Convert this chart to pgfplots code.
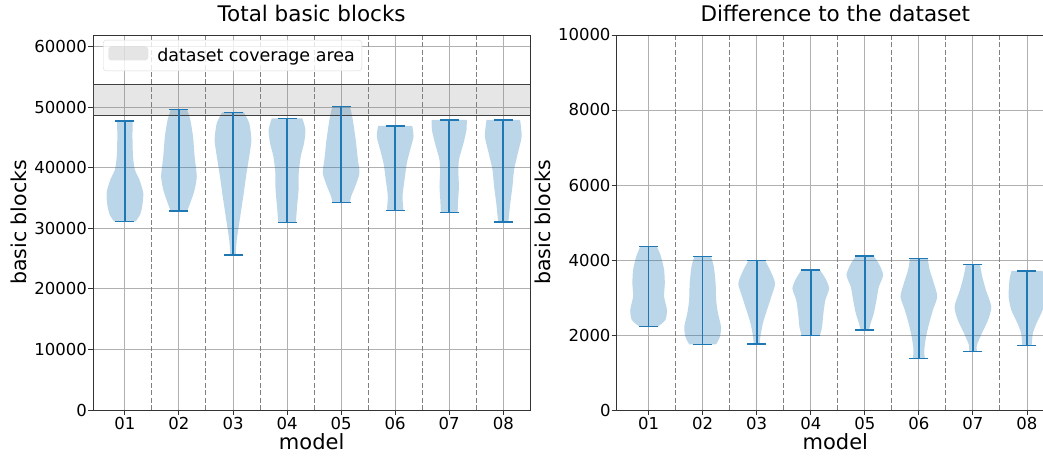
\documentclass[border=0pt]{standalone}
\usepackage{fontspec}
\setmainfont{DejaVu Sans}
\usepackage{pgfplots}
\usepackage{pgfplotstable}
\pgfplotsset{compat=1.18}
\usepgfplotslibrary{fillbetween}
\definecolor{cz}{HTML}{1F77B4}

% left chart violins: y, half width (axis units)
\pgfplotstableread{
y w
31120 0.20
32230 0.28
33600 0.32
35800 0.34
38000 0.27
39650 0.185
41850 0.15
45150 0.14
47740 0.145
}\La
\pgfplotstableread{
y w
32890 0.155
34700 0.23
36350 0.29
38550 0.33
41850 0.29
45150 0.26
47900 0.21
49600 0.15
}\Lb
\pgfplotstableread{
y w
25630 0.05
28100 0.07
31400 0.125
35250 0.19
39100 0.25
41850 0.30
44600 0.34
47360 0.30
49110 0.20
}\Lc
\pgfplotstableread{
y w
30960 0.164
33600 0.185
36350 0.213
39100 0.216
41850 0.253
44060 0.315
46250 0.34
48120 0.284
}\Ld
\pgfplotstableread{
y w
34260 0.164
35250 0.185
36900 0.26
39100 0.34
41300 0.31
44600 0.27
47900 0.216
50100 0.164
}\Le
\pgfplotstableread{
y w
32940 0.154
35250 0.136
38000 0.173
40760 0.216
42950 0.278
45150 0.34
46910 0.315
}\Lf
\pgfplotstableread{
y w
32610 0.155
34700 0.165
36900 0.18
39100 0.17
41300 0.18
44060 0.265
46250 0.32
47900 0.324
}\Lg
\pgfplotstableread{
y w
31020 0.093
31950 0.105
34150 0.13
36900 0.17
39650 0.2
42410 0.27
45150 0.34
47900 0.31
}\Lh

% right chart violins
\pgfplotstableread{
y w
2222 0.17
2400 0.31
2667 0.34
3022 0.287
3378 0.30
3733 0.287
4089 0.23
4356 0.155
}\Ra
\pgfplotstableread{
y w
1751 0.25
1956 0.32
2222 0.34
2578 0.284
2933 0.25
3378 0.24
3822 0.207
4089 0.155
}\Rb
\pgfplotstableread{
y w
1760 0.055
1956 0.068
2311 0.114
2667 0.19
3022 0.27
3378 0.34
3733 0.247
3982 0.155
}\Rc
\pgfplotstableread{
y w
1991 0.17
2222 0.21
2578 0.234
2933 0.27
3244 0.34
3511 0.27
3733 0.17
}\Rd
\pgfplotstableread{
y w
2133 0.077
2311 0.108
2578 0.167
2933 0.216
3289 0.26
3600 0.34
3911 0.256
4107 0.16
}\Re
\pgfplotstableread{
y w
1378 0.11
1600 0.1
1956 0.133
2311 0.19
2667 0.26
3022 0.34
3378 0.278
3733 0.2
4044 0.164
}\Rf
\pgfplotstableread{
y w
1556 0.074
1733 0.074
2044 0.164
2400 0.28
2756 0.34
3200 0.24
3556 0.173
3884 0.13
}\Rg
\pgfplotstableread{
y w
1716 0.086
2044 0.108
2311 0.176
2667 0.29
3022 0.34
3467 0.324
3707 0.287
}\Rh

% #1 position, #2 table, #3 min, #4 max, #5 unique id
\newcommand{\violin}[5]{%
 \addplot[name path=vr#5, draw=none, smooth, tension=0.4, forget plot] table[x expr=#1+\thisrow{w}, y=y] {#2};
 \addplot[name path=vl#5, draw=none, smooth, tension=0.4, forget plot] table[x expr=#1-\thisrow{w}, y=y] {#2};
 \addplot[fill=cz, fill opacity=0.3, draw=none, forget plot] fill between[of=vr#5 and vl#5, reverse=true];
 \addplot[cz, line width=1.6pt, mark=-, mark size=9.5pt, mark options={solid, line width=1.6pt}, forget plot] coordinates {(#1,#3) (#1,#4)};
}

\pgfplotsset{
 violinaxis/.style={
  scale only axis, width=437.3pt, height=375pt,
  xmin=0.41, xmax=8.5,
  xtick={1,2,3,4,5,6,7,8},
  xticklabels={01,02,03,04,05,06,07,08},
  xtick pos=bottom, ytick pos=left,
  tick align=outside, major tick length=5pt,
  tick style={black!80, line width=0.9pt},
  axis line style={black!80, line width=0.9pt},
  grid=major,
  major grid style={black!31, line width=0.9pt},
  extra x ticks={1.5,2.5,3.5,4.5,5.5,6.5,7.5},
  extra x tick labels={},
  extra x tick style={grid=major, major tick length=0pt,
     major grid style={black!50, line width=1pt, dash pattern=on 5pt off 2.4pt}},
  ticklabel style={font=\fontsize{16.5}{19}\selectfont, inner sep=1pt},
  xticklabel style={yshift=-1pt},
  /pgf/number format/assume math mode=true,
  /pgf/number format/set thousands separator={},
  scaled y ticks=false,
  title style={at={(axis description cs:0.5,1.019)}, anchor=base, font=\fontsize{21.5}{25}\selectfont},
  xlabel={model},
  xlabel style={at={(axis description cs:0.5,-0.106)}, anchor=base, inner sep=1pt, font=\fontsize{21}{25}\selectfont},
  ylabel={basic blocks},
  ylabel style={at={(axis description cs:-0.151,0.5)}, anchor=base, inner sep=1pt, font=\fontsize{20.5}{24}\selectfont},
 }
}

\begin{document}
\begin{tikzpicture}
\begin{axis}[violinaxis, at={(93pt,47pt)}, anchor=south west,
  ymin=0, ymax=61900,
  ytick={0,10000,20000,30000,40000,50000,60000},
  title={Total basic blocks},
  legend style={at={(axis description cs:0.023,0.987)}, anchor=north west,
    draw=black!15, rounded corners=3pt, fill=white, fill opacity=0.8, text opacity=1,
    font=\fontsize{17.5}{20}\selectfont, inner xsep=5pt, inner ysep=6pt},
  legend cell align=left,
  legend image code/.code={\fill[gray, fill opacity=0.2] (0pt,-5pt) rectangle (40pt,9pt); \path (47pt,0pt);},
]
\addplot[fill=gray, fill opacity=0.2, draw=none] coordinates {(0.41,48600) (8.5,48600) (8.5,53700) (0.41,53700)} -- cycle;
\addlegendentry{dataset coverage area}
\addplot[black!75, line width=1.5pt, forget plot] coordinates {(0.41,48600) (8.5,48600)};
\addplot[black!75, line width=1.5pt, forget plot] coordinates {(0.41,53700) (8.5,53700)};
\violin{1}{\La}{31120}{47740}{a1}
\violin{2}{\Lb}{32890}{49600}{a2}
\violin{3}{\Lc}{25630}{49110}{a3}
\violin{4}{\Ld}{30960}{48120}{a4}
\violin{5}{\Le}{34260}{50100}{a5}
\violin{6}{\Lf}{32940}{46910}{a6}
\violin{7}{\Lg}{32610}{47900}{a7}
\violin{8}{\Lh}{31020}{47900}{a8}
\end{axis}

\begin{axis}[violinaxis, at={(616.7pt,47pt)}, anchor=south west,
  ymin=0, ymax=10000,
  ytick={0,2000,4000,6000,8000,10000},
  title={Difference to the dataset},
]
\violin{1}{\Ra}{2222}{4356}{b1}
\violin{2}{\Rb}{1751}{4089}{b2}
\violin{3}{\Rc}{1760}{3982}{b3}
\violin{4}{\Rd}{1991}{3733}{b4}
\violin{5}{\Re}{2133}{4107}{b5}
\violin{6}{\Rf}{1378}{4044}{b6}
\violin{7}{\Rg}{1556}{3884}{b7}
\violin{8}{\Rh}{1716}{3707}{b8}
\end{axis}
\pgfresetboundingbox
\path (0pt,0pt) rectangle (1043pt,457pt);
\end{tikzpicture}
\end{document}
